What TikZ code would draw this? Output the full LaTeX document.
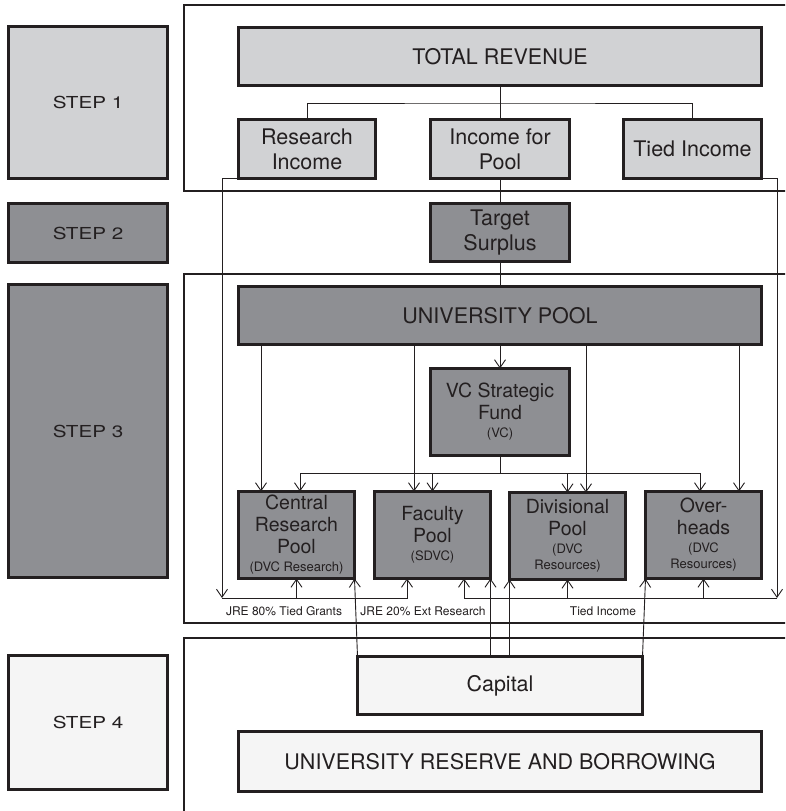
\documentclass[tikz,border=0pt]{standalone}
\usepackage{fontspec}
\setmainfont{TeX Gyre Heros}
\usetikzlibrary{arrows.meta,calc}
\definecolor{ink}{HTML}{231F20}
\definecolor{paleG}{HTML}{D1D2D4}
\definecolor{midG}{HTML}{8E8F93}
\definecolor{whiteG}{HTML}{F5F5F5}
\newcommand{\sublabel}[1]{{\fontsize{13}{15}\selectfont #1}}
\newcommand{\steptext}[1]{\scalebox{1.25}[1]{\fontsize{16.5}{18}\selectfont #1}}
\begin{document}
\begin{tikzpicture}[x=1pt,y=-1pt,
  box/.style={draw=ink, line width=3.5pt, text=ink, align=center,
    inner sep=0pt, outer sep=0pt, font=\fontsize{21.5}{25}\selectfont},
  pale/.style={box, fill=paleG},
  mid/.style={box, fill=midG},
  light/.style={box, fill=whiteG},
  fund/.style={mid, minimum width=116pt, minimum height=87pt,
    font=\fontsize{19.5}{22}\selectfont},
  frame/.style={draw=ink, line width=2.5pt},
  link/.style={draw=ink, line width=0.9pt},
  arr/.style={link, -{Straight Barb[length=8pt,width=11pt,line width=0.9pt]}},
  tag/.style={text=ink, inner sep=0pt, font=\fontsize{12}{14}\selectfont}
]
\clip (0,0) rectangle (785,811);
\fill[white] (0,0) rectangle (785,811);

% stage panels
\draw[frame] (184,5) rectangle (795,191);
\draw[frame] (184,274) rectangle (795,623);
\draw[frame] (184,638) rectangle (795,812);

% stage labels
\node[pale,  minimum width=159pt, minimum height=152pt] (s1) at (88,102.5) {\steptext{STEP 1}};
\node[mid,   minimum width=159pt, minimum height=59pt]  (s2) at (88,233)   {\steptext{STEP 2}};
\node[mid,   minimum width=159pt, minimum height=293pt] (s3) at (88,431)   {\steptext{STEP 3}};
\node[light, minimum width=159pt, minimum height=134pt] (s4) at (88,722.5) {\steptext{STEP 4}};

% step 1
\node[pale, minimum width=523pt, minimum height=58pt] (tr) at (500,56.5) {TOTAL REVENUE};
\node[pale, minimum width=137pt, minimum height=59pt] (ri) at (307,149)   {Research\\Income};
\node[pale, minimum width=139pt, minimum height=59pt] (ip) at (500,149)   {Income for\\Pool};
\node[pale, minimum width=138pt, minimum height=59pt] (ti) at (692.5,149) {Tied Income};

% step 2
\node[mid, minimum width=139pt, minimum height=58pt] (ts) at (500,232.5) {Target\\Surplus};

% step 3
\node[mid, minimum width=523pt, minimum height=58pt] (up) at (500,315.5) {UNIVERSITY POOL};
\node[mid, minimum width=139pt, minimum height=87pt, font=\fontsize{19.5}{22}\selectfont] (vc) at (500,412)
  {VC Strategic\\Fund\\[-4pt]\sublabel{(VC)}};
\node[fund] (crp) at (296.5,535) {Central\\Research\\Pool\\[-4pt]\sublabel{(DVC Research)}};
\node[fund] (fp)  at (432.5,535) {Faculty\\Pool\\[-4pt]\sublabel{(SDVC)}};
\node[fund] (dp)  at (567.5,536) {Divisional\\Pool\\[-4pt]\sublabel{(DVC}\\[-6pt]\sublabel{Resources)}};
\node[fund] (oh)  at (703.5,535) {Over-\\heads\\[-4pt]\sublabel{(DVC}\\[-6pt]\sublabel{Resources)}};

% step 4
\node[light, minimum width=285pt, minimum height=58pt] (cap) at (500,685.5) {Capital};
\node[light, minimum width=523pt, minimum height=60pt] (res) at (500,761.5) {UNIVERSITY RESERVE AND BORROWING};

% flow labels
\node[tag] (l1) at (284,611) {JRE 80\% Tied Grants};
\node[tag] (l2) at (423,611) {JRE 20\% Ext Research};
\node[tag] (l3) at (603,611) {Tied Income};

% helper columns and buses
\coordinate (topbus) at (500,103);
\coordinate (vcbus)  at (500,473);
\coordinate (jreL)   at (222,598);
\coordinate (jreR)   at (777,598);
\coordinate (c261) at (261,0);
\coordinate (c300) at (300,0);
\coordinate (c414) at (414,0);
\coordinate (c586) at (586,0);
\coordinate (c700) at (700,0);
\coordinate (c739) at (739,0);
\coordinate (c407) at (407,0);
\coordinate (c464) at (464,0);

% revenue split
\draw[link] (tr.south) -- (ip.north);
\draw[link] (ri.north) |- (topbus) -| (ti.north);
\draw[link] (ip.south) -- (ts.north);
\draw[link] (ts.south) -- (up.north);

% university pool allocations
\draw[arr] (up.south) -- (vc.north);
\draw[arr] (up.south -| c261) -- (crp.north -| c261);
\draw[arr] (up.south -| c414) -- (fp.north -| c414);
\draw[arr] (up.south -| c586) -- (dp.north -| c586);
\draw[arr] (up.south -| c739) -- (oh.north -| c739);

% strategic fund allocations
\draw[link] (vc.south) -- (vcbus);
\draw[arr] (vcbus) -| (crp.north -| c300);
\draw[arr] (vcbus) -| (oh.north -| c700);
\draw[arr] (fp.north |- vcbus) -- (fp.north);
\draw[arr] (dp.north |- vcbus) -- (dp.north);

% research income
\draw[arr] (ri.south west) -| (jreL);
\draw[arr] (jreL) -| (fp.south -| c407);
\draw[arr] (crp.south |- jreL) -- (crp.south);

% tied income
\draw[arr] (ti.south east) -| (jreR);
\draw[arr] (jreR) -| (fp.south -| c464);
\draw[arr] (oh.south |- jreR) -- (oh.south);
\draw[arr] (dp.south |- jreR) -- (dp.south);

% capital
\draw[arr] (cap.north west) -- (crp.south east);
\draw[arr] (cap.north -| fp.south east) -- (fp.south east);
\draw[arr] (cap.north -| dp.south west) -- (dp.south west);
\draw[arr] (cap.north east) -- (oh.south west);
\end{tikzpicture}
\end{document}
